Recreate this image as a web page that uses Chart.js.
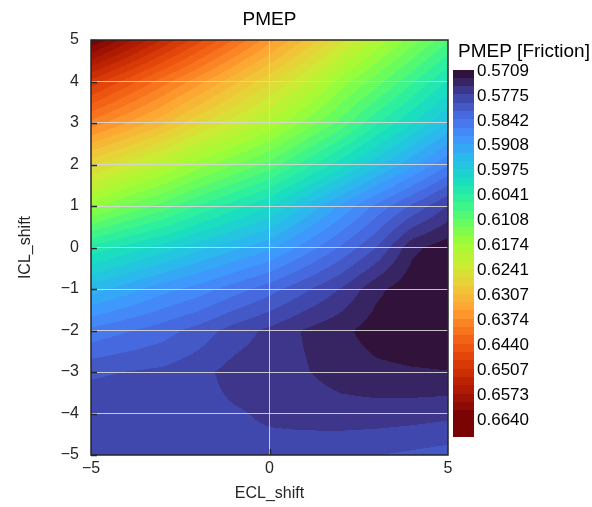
<!DOCTYPE html>
<html><head><meta charset="utf-8">
<script src="https://cdn.jsdelivr.net/npm/chart.js@4/dist/chart.umd.min.js"></script>
<style>html,body{margin:0;padding:0;background:#fff}#wrap{width:592px;height:507px}</style>
</head><body><div id="wrap"><canvas id="c" width="592" height="507"></canvas></div>
<script>
// ---- data ----
const eclShift = [-5, -4, -3, -2, -1, 0, 1, 2, 3, 4, 5];
const iclShift = [5, 4, 3, 2, 1, 0, -1, -2, -3, -4, -5];
// PMEP values, one row per iclShift value (top row = 5), columns follow eclShift
const pmepY5  = [0.6640, 0.6584, 0.6528, 0.6472, 0.6417, 0.6361, 0.6305, 0.6249, 0.6193, 0.6142, 0.6091];
const pmepY4  = [0.6500, 0.6454, 0.6407, 0.6361, 0.6314, 0.6268, 0.6221, 0.6165, 0.6119, 0.6067, 0.6016];
const pmepY3  = [0.6389, 0.6351, 0.6314, 0.6268, 0.6230, 0.6193, 0.6147, 0.6100, 0.6044, 0.5998, 0.5951];
const pmepY2  = [0.6268, 0.6235, 0.6202, 0.6165, 0.6133, 0.6100, 0.6053, 0.6007, 0.5960, 0.5914, 0.5867];
const pmepY1  = [0.6165, 0.6128, 0.6100, 0.6063, 0.6030, 0.5998, 0.5951, 0.5905, 0.5858, 0.5816, 0.5774];
const pmepY0  = [0.6035, 0.6012, 0.5988, 0.5960, 0.5937, 0.5914, 0.5877, 0.5839, 0.5797, 0.5737, 0.5718];
const pmepYm1 = [0.5942, 0.5919, 0.5895, 0.5877, 0.5853, 0.5830, 0.5802, 0.5774, 0.5737, 0.5716, 0.5709];
const pmepYm2 = [0.5858, 0.5844, 0.5830, 0.5811, 0.5788, 0.5770, 0.5751, 0.5737, 0.5720, 0.5712, 0.5709];
const pmepYm3 = [0.5802, 0.5797, 0.5793, 0.5783, 0.5767, 0.5761, 0.5755, 0.5743, 0.5737, 0.5734, 0.5732];
const pmepYm4 = [0.5779, 0.5778, 0.5779, 0.5782, 0.5778, 0.5772, 0.5767, 0.5763, 0.5763, 0.5765, 0.5769];
const pmepYm5 = [0.5778, 0.5778, 0.5779, 0.5780, 0.5781, 0.5783, 0.5788, 0.5793, 0.5797, 0.5802, 0.5807];
const pmepRows = [pmepY5, pmepY4, pmepY3, pmepY2, pmepY1, pmepY0, pmepYm1, pmepYm2, pmepYm3, pmepYm4, pmepYm5];
const colorbarLabels = ['0.5709','0.5775','0.5842','0.5908','0.5975','0.6041','0.6108','0.6174','0.6241','0.6307','0.6374','0.6440','0.6507','0.6573','0.6640'];
const vMin = 0.5709, vMax = 0.6640;
const nLevels = 42;

// turbo colormap anchors (every 16th entry of the 256-entry table)
const turboLUT = [
  [0.18995,0.07176,0.23217],[0.25107,0.25237,0.63374],[0.27628,0.42118,0.89123],[0.25862,0.57958,0.99876],
  [0.15844,0.73551,0.92305],[0.09267,0.86554,0.76230],[0.19659,0.94901,0.59466],[0.40210,0.99220,0.36836],
  [0.62740,0.98999,0.20401],[0.80438,0.91945,0.20612],[0.93301,0.79729,0.22500],[0.99347,0.64690,0.19976],
  [0.98000,0.46751,0.12206],[0.91624,0.30800,0.05239],[0.80245,0.18055,0.01611],[0.65600,0.08400,0.00500],
  [0.47960,0.01583,0.01055]
];
function turbo(t) {
  t = Math.max(0, Math.min(1, t));
  const p = t * (turboLUT.length - 1);
  const i = Math.min(turboLUT.length - 2, Math.floor(p));
  const f = p - i;
  return turboLUT[i].map((c, k) => Math.round(255 * (c + (turboLUT[i+1][k] - c) * f)));
}
function levelColor(v) {
  const t = (v - vMin) / (vMax - vMin);
  let lev = Math.floor(t * nLevels);
  lev = Math.max(0, Math.min(nLevels - 1, lev));
  return turbo(lev / (nLevels - 1));
}
function seg(arr, v) {
  for (let i = 0; i < arr.length - 1; i++) {
    const a = arr[i], b = arr[i+1];
    if (v >= Math.min(a,b) && v <= Math.max(a,b)) return [i, (v - a) / (b - a)];
  }
  const asc = arr[0] < arr[1];
  if (v < Math.min(arr[0], arr[arr.length-1])) return asc ? [0,0] : [arr.length-2,1];
  return asc ? [arr.length-2,1] : [0,0];
}
function interp(x, y) {
  const [i, fx] = seg(eclShift, x);
  const [j, fy] = seg(iclShift, y);
  const v00 = pmepRows[j][i], v01 = pmepRows[j][i+1], v10 = pmepRows[j+1][i], v11 = pmepRows[j+1][i+1];
  return (v00*(1-fx) + v01*fx)*(1-fy) + (v10*(1-fx) + v11*fx)*fy;
}
const minus = v => String(v).replace('-', '\u2212');
const FONT = "'Liberation Sans', Arial, sans-serif";
const ink = '#262626';

const contourPlugin = {
  id: 'contour',
  beforeDraw(chart) {
    const {ctx, chartArea: a, scales: {x, y}} = chart;
    const w = Math.round(a.right - a.left), h = Math.round(a.bottom - a.top);
    const off = document.createElement('canvas');
    off.width = w; off.height = h;
    const octx = off.getContext('2d');
    const img = octx.createImageData(w, h);
    for (let py = 0; py < h; py++) {
      const dy = y.getValueForPixel(a.top + py + 0.5);
      for (let px = 0; px < w; px++) {
        const dx = x.getValueForPixel(a.left + px + 0.5);
        const col = levelColor(interp(dx, dy));
        const k = (py*w + px)*4;
        img.data[k] = col[0]; img.data[k+1] = col[1]; img.data[k+2] = col[2]; img.data[k+3] = 255;
      }
    }
    octx.putImageData(img, 0, 0);
    ctx.drawImage(off, a.left, a.top);
  },
  afterDraw(chart) {
    const {ctx, chartArea: a, scales: {x, y}} = chart;
    ctx.save();
    ctx.fillStyle = '#000';
    ctx.font = `19px ${FONT}`;
    ctx.textAlign = 'center'; ctx.textBaseline = 'middle';
    ctx.fillText('PMEP', (a.left + a.right)/2, 20);
    ctx.strokeStyle = ink; ctx.lineWidth = 1.5;
    iclShift.forEach(v => {
      const py = Math.round(y.getPixelForValue(v)) + 0.5;
      ctx.beginPath(); ctx.moveTo(a.left, py); ctx.lineTo(a.left + 6, py); ctx.stroke();
    });
    [0].forEach(v => {
      const px = Math.round(x.getPixelForValue(v)) + 0.5;
      ctx.beginPath(); ctx.moveTo(px, a.bottom); ctx.lineTo(px, a.bottom - 6); ctx.stroke();
    });
    ctx.strokeRect(a.left, a.top, a.right - a.left, a.bottom - a.top);
    // colorbar
    const cbX = 453, cbW = 21, cbTop = 70, labTop = 71, labStep = (420 - 71) / 14, bandH = labStep / 3;
    const nBands = 44;
    for (let k = 0; k < nBands; k++) {
      const c = turbo(Math.min(k, nLevels - 1) / (nLevels - 1));
      ctx.fillStyle = `rgb(${c[0]},${c[1]},${c[2]})`;
      const y0 = cbTop + k*bandH;
      ctx.fillRect(cbX, Math.floor(y0), cbW, Math.ceil(bandH) + 1);
    }
    ctx.fillStyle = '#000';
    ctx.textAlign = 'left'; ctx.textBaseline = 'middle';
    ctx.font = `19px ${FONT}`;
    ctx.fillText('PMEP [Friction]', 458, 52);
    ctx.font = `17px ${FONT}`;
    colorbarLabels.forEach((s, i) => ctx.fillText(s, 477, labTop + i*labStep));
    ctx.restore();
  }
};

const gridPts = [];
iclShift.forEach((yy, j) => eclShift.forEach((xx, i) => gridPts.push({x: xx, y: yy, v: pmepRows[j][i]})));

new Chart(document.getElementById('c'), {
  type: 'scatter',
  data: { datasets: [{ label: 'PMEP', data: gridPts, pointRadius: 0, pointHoverRadius: 0 }] },
  options: {
    responsive: false, animation: false,
    layout: { padding: { top: 40, right: 144, left: 0, bottom: 0 } },
    plugins: { legend: { display: false }, tooltip: { enabled: false }, title: { display: false } },
    scales: {
      x: {
        type: 'linear', min: -5, max: 5,
        ticks: { stepSize: 5, color: ink, font: { family: FONT, size: 16 }, padding: 4, callback: v => minus(v), maxRotation: 0 },
        grid: { drawTicks: false, lineWidth: 1, color: c => (c.tick && c.tick.value === 0) ? 'rgba(215,215,215,0.9)' : 'rgba(0,0,0,0)' },
        border: { display: false },
        title: { display: true, text: 'ECL_shift', color: ink, font: { family: FONT, size: 16 }, padding: { top: 1 } },
        afterFit: s => { s.height = 52; }
      },
      y: {
        type: 'linear', min: -5, max: 5,
        ticks: { stepSize: 1, color: ink, font: { family: FONT, size: 16 }, padding: 12, callback: v => minus(v) },
        grid: { drawTicks: false, lineWidth: 1, color: c => (c.tick && Math.abs(c.tick.value) !== 5) ? 'rgba(215,215,215,0.9)' : 'rgba(0,0,0,0)' },
        border: { display: false },
        title: { display: true, text: 'ICL_shift', color: ink, font: { family: FONT, size: 16 }, padding: { top: 16 } },
        afterFit: s => { s.width = 91; }
      }
    }
  },
  plugins: [contourPlugin]
});
</script>
</body></html>
